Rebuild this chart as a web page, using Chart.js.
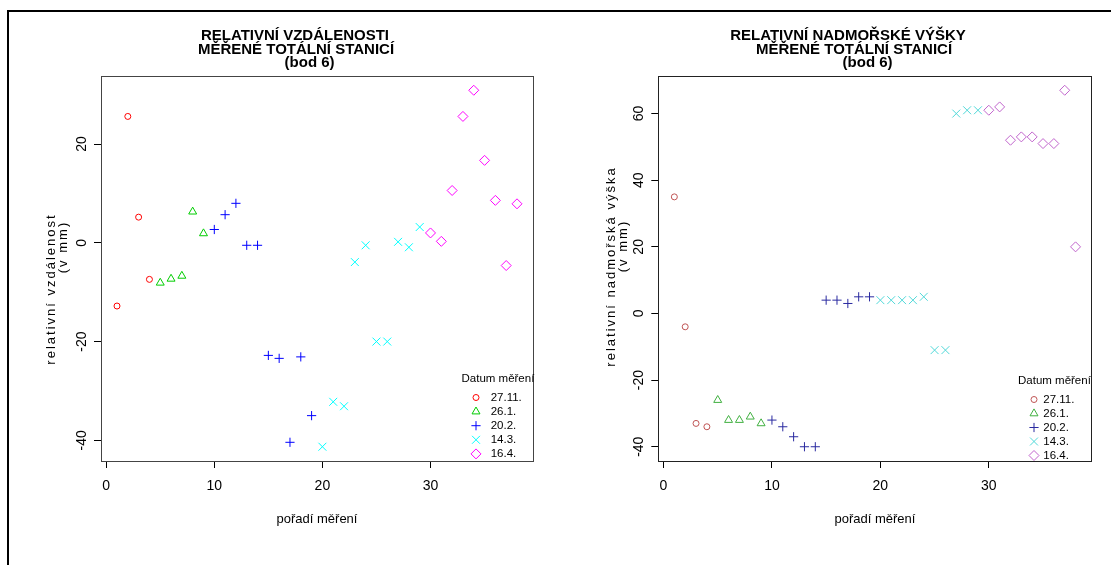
<!DOCTYPE html>
<html>
<head>
<meta charset="utf-8">
<script src="https://cdn.jsdelivr.net/npm/chart.js@4.4.1/dist/chart.umd.min.js"></script>
<style>
  html, body { margin: 0; padding: 0; background: #fff; }
  body { width: 1111px; height: 565px; position: relative; overflow: hidden; }
  #frame { position: absolute; left: 7px; top: 10px; width: 1200px; height: 600px; border-top: 2px solid #000; border-left: 2px solid #000; }
  .panel { position: absolute; top: 0; height: 565px; }
  #leftPanel { left: 0; width: 556px; }
  #rightPanel { left: 556px; width: 555px; }
</style>
</head>
<body>
<div class="panel" id="leftPanel"><canvas id="chartDist"></canvas></div>
<div class="panel" id="rightPanel"><canvas id="chartHeight"></canvas></div>
<div id="frame"></div>
<script>
// pořadí měření v jednotlivých sériích
const order2711 = [1, 2, 3, 4];
const order261 = [5, 6, 7, 8, 9];
const order202 = [10, 11, 12, 13, 14, 15, 16, 17, 18, 19];
const order143 = [20, 21, 22, 23, 24, 25, 26, 27, 28, 29];
const order164 = [30, 31, 32, 33, 34, 35, 36, 37, 38];

const seriesNames = ['27.11.', '26.1.', '20.2.', '14.3.', '16.4.'];

// relativni vzdalenosti (v mm)
const dist2711 = [-12.8, 25.6, 5.2, -7.4];
const dist261 = [-8.1, -7.3, -6.7, 6.3, 1.9];
const dist202 = [2.7, 5.7, 8.0, -0.5, -0.5, -22.8, -23.4, -40.4, -23.1, -35.0];
const dist143 = [-41.3, -32.2, -33.1, -3.9, -0.5, -20.0, -20.0, 0.2, -0.9, 3.2];
const dist164 = [2.0, 0.3, 10.6, 25.6, 30.9, 16.7, 8.6, -4.6, 7.9];

// relativni nadmorske vysky (v mm)
const height2711 = [35, -4, -33, -34];
const height261 = [-26, -32, -32, -31, -33];
const height202 = [-32, -34, -37, -40, -40, 4, 4, 3, 5, 5];
const height143 = [4, 4, 4, 4, 5, -11, -11, 60, 61, 61];
const height164 = [61, 62, 52, 53, 53, 51, 51, 67, 20];

const xTicks = [0, 10, 20, 30];
const distTicks = [-40, -20, 0, 20];
const heightTicks = [-40, -20, 0, 20, 40, 60];

const orders = [order2711, order261, order202, order143, order164];
const markerStyles = ['circle', 'triangle', 'cross', 'crossRot', 'rectRot'];
const markerRadius = [3, 4.6, 4.6, 5.6, 5];
const FONT = '"Liberation Sans", Arial, sans-serif';

// R rozsireni osy o 4 %
function rRange(values) {
    const min = Math.min(...values);
    const max = Math.max(...values);
    const pad = (max - min) * 0.04;
    return { min: min - pad, max: max + pad };
}

function buildDatasets(values, colors) {
    return seriesNames.map((name, i) => ({
        label: name,
        data: orders[i].map((x, j) => ({ x: x, y: values[i][j] })),
        pointStyle: markerStyles[i],
        pointRadius: markerRadius[i],
        pointBorderWidth: 1,
        borderColor: colors[i],
        backgroundColor: 'rgba(0,0,0,0)',
        showLine: false
    }));
}

function makeRPlotPlugin(panel) {
    return {
        id: 'rPlot',
        afterDraw(chart) {
            const ctx = chart.ctx;
            const area = chart.chartArea;
            const yScale = chart.scales.y;
            ctx.save();

            // ramecek grafu
            ctx.strokeStyle = panel.boxColor;
            ctx.lineWidth = 1;
            ctx.strokeRect(Math.round(area.left) + 0.5, Math.round(area.top) + 0.5,
                Math.round(area.right - area.left), Math.round(area.bottom - area.top));

            // popisky osy y (otocene jako v R)
            ctx.fillStyle = '#000';
            ctx.font = '14px ' + FONT;
            ctx.textAlign = 'center';
            ctx.textBaseline = 'middle';
            yScale.ticks.forEach(t => {
                const y = yScale.getPixelForValue(t.value);
                ctx.save();
                ctx.translate(area.left + panel.yLabelDx, y);
                ctx.rotate(-Math.PI / 2);
                ctx.fillText(String(t.value), 0, 0);
                ctx.restore();
            });

            // nadpis
            ctx.font = 'bold 15px ' + FONT;
            ctx.textBaseline = 'alphabetic';
            panel.title.forEach((line, i) => {
                ctx.fillText(line, area.left + panel.titleX[i], panel.titleY[i]);
            });

            // nazev osy x
            ctx.font = '13px ' + FONT;
            ctx.textBaseline = 'middle';
            ctx.fillText('pořadí měření', (area.left + area.right) / 2, 519);

            // nazev osy y
            ctx.letterSpacing = '2px';
            panel.yTitle.forEach((line, i) => {
                ctx.save();
                ctx.translate(area.left + panel.yTitleX[i], panel.yTitleY[i]);
                ctx.rotate(-Math.PI / 2);
                ctx.fillText(line, 0, 0);
                ctx.restore();
            });
            ctx.letterSpacing = '0px';

            // legenda
            ctx.textAlign = 'left';
            ctx.font = '11.5px ' + FONT;
            ctx.fillText('Datum měření', area.right + panel.legendTitleDx, panel.legendTitleY);
            ctx.lineWidth = 1;
            seriesNames.forEach((name, i) => {
                const y = panel.legendRowY + i * panel.legendRowStep;
                ctx.strokeStyle = panel.colors[i];
                ctx.fillStyle = 'rgba(0,0,0,0)';
                if (Chart.helpers && Chart.helpers.drawPoint) {
                    Chart.helpers.drawPoint(ctx, {
                        pointStyle: markerStyles[i], radius: markerRadius[i], rotation: 0, borderWidth: 1
                    }, area.right + panel.legendSymbolDx, y);
                }
                ctx.fillStyle = '#000';
                ctx.fillText(name, area.right + panel.legendLabelDx, y);
            });
            ctx.restore();
        }
    };
}

function makeChart(canvasId, values, yTicks, panel) {
    const xRange = rRange([].concat(...orders));
    const yRange = rRange([].concat(...values));
    return new Chart(document.getElementById(canvasId), {
        type: 'scatter',
        data: { datasets: buildDatasets(values, panel.colors) },
        options: {
            responsive: true,
            maintainAspectRatio: false,
            animation: false,
            events: [],
            layout: { padding: panel.padding },
            plugins: {
                legend: { display: false },
                title: { display: false },
                tooltip: { enabled: false }
            },
            scales: {
                x: {
                    type: 'linear',
                    min: xRange.min,
                    max: xRange.max,
                    afterBuildTicks: s => { s.ticks = xTicks.map(v => ({ value: v })); },
                    afterFit: s => { s.height = 40; },
                    grid: { drawOnChartArea: false, drawTicks: true, tickLength: 7, color: '#000', lineWidth: 1 },
                    border: { display: false },
                    ticks: { color: '#000', font: { family: FONT, size: 14 }, padding: 10, maxRotation: 0, autoSkip: false }
                },
                y: {
                    type: 'linear',
                    min: yRange.min,
                    max: yRange.max,
                    afterBuildTicks: s => { s.ticks = yTicks.map(v => ({ value: v })); },
                    afterFit: s => { s.width = 20; },
                    grid: { drawOnChartArea: false, drawTicks: true, tickLength: 7, color: '#000', lineWidth: 1 },
                    border: { display: false },
                    ticks: { display: false }
                }
            }
        },
        plugins: [makeRPlotPlugin(panel)]
    });
}

makeChart('chartDist', [dist2711, dist261, dist202, dist143, dist164], distTicks, {
    padding: { left: 81, right: 23, top: 76, bottom: 64 },
    colors: ['#ff0000', '#00cd00', '#0000ff', '#00ffff', '#ff00ff'],
    boxColor: '#444',
    title: ['RELATIVNÍ VZDÁLENOSTI', 'MĚŘENÉ TOTÁLNÍ STANICÍ', '(bod 6)'],
    titleX: [194, 195, 208.6],
    titleY: [40, 53.5, 66.5],
    yTitle: ['relativní vzdálenost', '(v mm)'],
    yTitleX: [-49.3, -37.7],
    yTitleY: [289, 247],
    yLabelDx: -19.3,
    legendTitleDx: -71.5, legendTitleY: 379,
    legendSymbolDx: -57, legendLabelDx: -42.3,
    legendRowY: 397.5, legendRowStep: 14.1
});

makeChart('chartHeight', [height2711, height261, height202, height143, height164], heightTicks, {
    padding: { left: 82.3, right: 19.4, top: 76, bottom: 64 },
    colors: ['#bf5454', '#40b040', '#2a2aa0', '#50d8d8', '#c064cc'],
    boxColor: '#222',
    title: ['RELATIVNÍ NADMOŘSKÉ VÝŠKY', 'MĚŘENÉ TOTÁLNÍ STANICÍ', '(bod 6)'],
    titleX: [189.7, 195.7, 209.3],
    titleY: [40, 53.5, 66.5],
    yTitle: ['relativní nadmořská výška', '(v mm)'],
    yTitleX: [-46.6, -35],
    yTitleY: [266.5, 246],
    yLabelDx: -19,
    legendTitleDx: -73.6, legendTitleY: 381.3,
    legendSymbolDx: -57.6, legendLabelDx: -48.3,
    legendRowY: 399.5, legendRowStep: 14
});
</script>
</body>
</html>
